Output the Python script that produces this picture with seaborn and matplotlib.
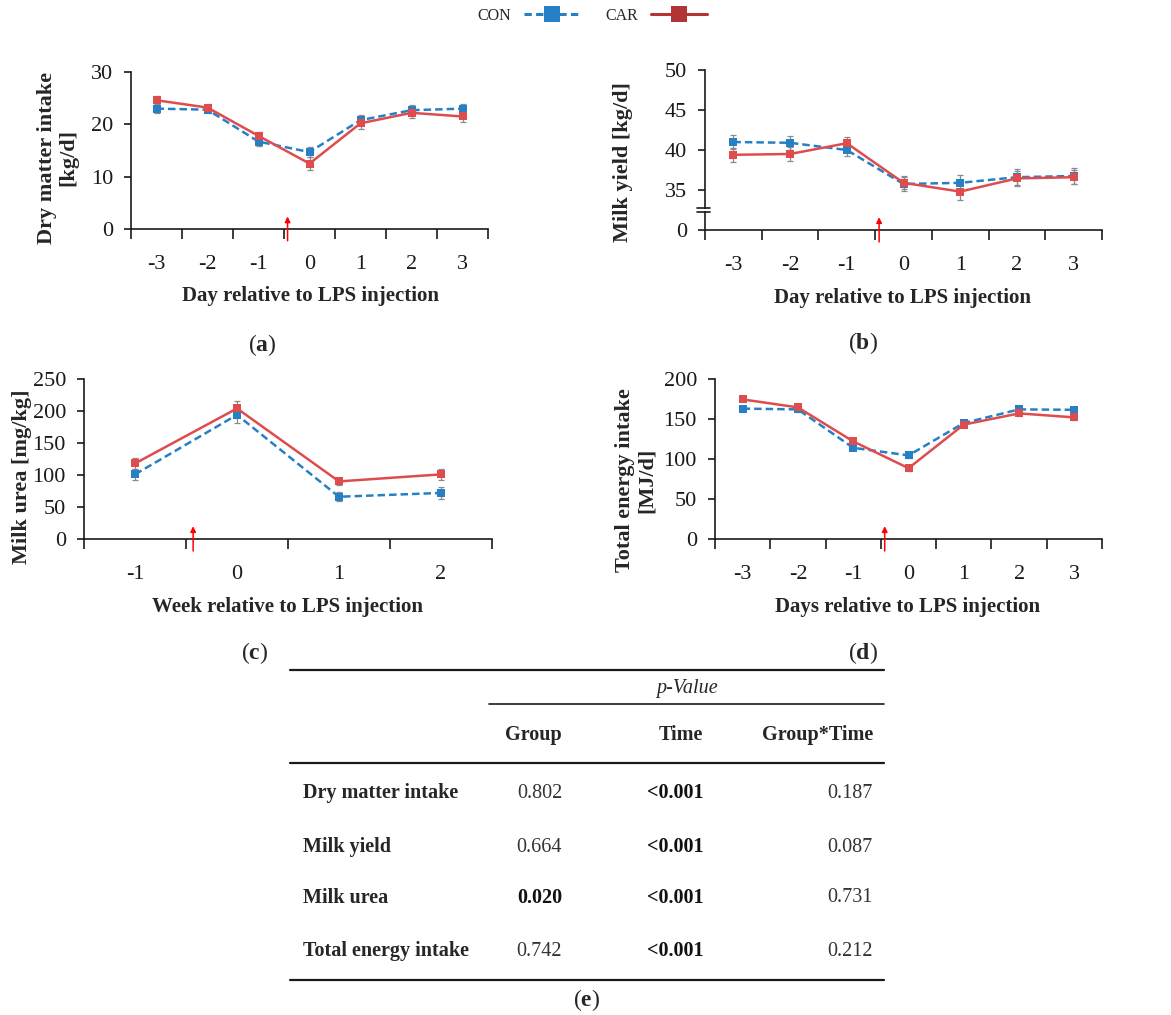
import numpy as np
import pandas as pd
import matplotlib
matplotlib.use("Agg")
import matplotlib.pyplot as plt
from matplotlib.lines import Line2D
import seaborn as sns

# ---------------- data ----------------
days = [-3, -2, -1, 0, 1, 2, 3]
weeks = [-1, 0, 1, 2]

dmi_con = [23.0, 22.8, 16.7, 14.7, 20.8, 22.7, 23.0]
dmi_car = [24.6, 23.2, 17.8, 12.5, 20.2, 22.2, 21.5]
dmi_con_se = [0.8, 0.7, 0.8, 1.0, 0.9, 1.0, 0.9]
dmi_car_se = [0.8, 0.7, 0.8, 1.2, 1.0, 1.0, 1.1]

my_con = [41.0, 40.9, 40.0, 35.75, 35.9, 36.6, 36.75]
my_car = [39.4, 39.5, 40.85, 35.9, 34.8, 36.45, 36.6]
my_con_se = [0.9, 0.9, 0.8, 0.9, 1.0, 1.0, 1.0]
my_car_se = [0.9, 0.9, 0.8, 0.8, 1.1, 0.9, 0.9]

urea_con = [101, 194, 66, 72]
urea_car = [118, 204, 90, 101]
urea_con_se = [9, 12, 7, 9]
urea_car_se = [8, 12, 6, 9]

tei_con = [163, 162, 114, 104.5, 145, 162, 161.5]
tei_car = [174.5, 164.5, 122, 88.5, 143, 157, 152]
tei_con_se = [3, 3, 3, 3, 3, 3, 3]
tei_car_se = [3, 3, 3, 3, 3, 3, 3]

groups = ["CON", "CAR"]

table_rows = ["Dry matter intake", "Milk yield", "Milk urea", "Total energy intake"]
table_cols = ["Group", "Time", "Group*Time"]
p_group = ["0.802", "0.664", "0.020", "0.742"]
p_time = ["<0.001", "<0.001", "<0.001", "<0.001"]
p_inter = ["0.187", "0.087", "0.731", "0.212"]
bold_group = [False, False, True, False]
bold_time = [True, True, True, True]
bold_inter = [False, False, False, False]

# ---------------- style ----------------
sns.set_style("ticks")
SERIF = ["Liberation Serif", "DejaVu Serif"]
plt.rcParams["font.family"] = SERIF
plt.rcParams["mathtext.fontset"] = "custom"
plt.rcParams["mathtext.rm"] = "Liberation Serif"
plt.rcParams["mathtext.bf"] = "Liberation Serif:bold"
plt.rcParams["mathtext.it"] = "Liberation Serif:italic"

BLUE = "#2580C5"
RED = "#DF4C4E"
DARKRED = "#B23435"
ERR = "#8a8a8a"
AXC = "#1a1a1a"

W, H = 1171, 1015
fig = plt.figure(figsize=(W / 100, H / 100), dpi=100)


def px_rect(l, t, r, b):
    return [l / W, 1 - b / H, (r - l) / W, (b - t) / H]


def panel(rect, cats, con, car, con_se, car_se, ylim, yticks, yticklabels=None):
    ax = fig.add_axes(px_rect(*rect))
    n = len(cats)
    pos = np.arange(n)
    df = pd.DataFrame({
        "pos": np.concatenate([pos, pos]),
        "value": list(con) + list(car),
        "Group": ["CON"] * n + ["CAR"] * n,
    })
    ax.errorbar(pos, con, yerr=con_se, fmt="none", ecolor=ERR, elinewidth=0.9,
                capsize=2.2, capthick=0.9, zorder=1)
    ax.errorbar(pos, car, yerr=car_se, fmt="none", ecolor=ERR, elinewidth=0.9,
                capsize=2.2, capthick=0.9, zorder=1)
    sns.lineplot(data=df, x="pos", y="value", hue="Group", style="Group",
                 hue_order=groups, style_order=groups,
                 palette={"CON": BLUE, "CAR": RED},
                 markers={"CON": "s", "CAR": "s"},
                 dashes={"CON": (3, 1.6), "CAR": ""},
                 markersize=6, markeredgewidth=0, linewidth=1.8,
                 legend=False, ax=ax, zorder=3)
    ax.set_xlim(-0.5, n - 0.5)
    ax.set_ylim(*ylim)
    ax.set_xticks(pos)
    ax.set_xticklabels([str(c) for c in cats])
    ax.set_xticks(np.arange(n + 1) - 0.5, minor=True)
    ax.set_yticks(yticks)
    if yticklabels is not None:
        ax.set_yticklabels(yticklabels)
    ax.tick_params(axis="x", which="major", length=0, pad=19, labelsize=16, colors=AXC)
    ax.tick_params(axis="x", which="minor", length=7, width=1.2, direction="out", color=AXC)
    ax.tick_params(axis="y", length=5, width=1.2, direction="out", pad=8, labelsize=16, colors=AXC)
    for s in ["top", "right"]:
        ax.spines[s].set_visible(False)
    for s in ["left", "bottom"]:
        ax.spines[s].set_linewidth(1.2)
        ax.spines[s].set_color(AXC)
    ax.set_xlabel("")
    ax.set_ylabel("")
    return ax


def lps_arrow(ax, n_before):
    x = n_before - 0.5 + 0.07
    ax.annotate("", xy=(x, 0.08), xycoords=("data", "axes fraction"),
                xytext=(x, -0.075), textcoords=("data", "axes fraction"),
                arrowprops=dict(arrowstyle="-|>", color="red", lw=1.1,
                                mutation_scale=8, shrinkA=0, shrinkB=0),
                annotation_clip=False)


def ftext(x, y, s, **kw):
    fig.text(x / W, 1 - y / H, s, **kw)


# (a)
ax_a = panel((131, 72, 488, 229), days, dmi_con, dmi_car, dmi_con_se, dmi_car_se,
             (0, 30), [0, 10, 20, 30])
lps_arrow(ax_a, 3)
# (b) with broken axis: bottom "0" stands for the break
ax_b = panel((705, 70, 1102, 230), days, my_con, my_car, my_con_se, my_car_se,
             (30, 50), [30, 35, 40, 45, 50], ["0", "35", "40", "45", "50"])
lps_arrow(ax_b, 3)
for yb in (0.112, 0.135):
    ax_b.plot([-0.02, 0.012], [yb, yb], transform=ax_b.transAxes, color=AXC,
              lw=1.2, clip_on=False, zorder=6)
ax_b.add_patch(plt.Rectangle((-0.006, 0.117), 0.012, 0.013, transform=ax_b.transAxes,
                             facecolor="white", edgecolor="none", clip_on=False, zorder=5))
# (c)
ax_c = panel((84, 379, 492, 539), weeks, urea_con, urea_car, urea_con_se, urea_car_se,
             (0, 250), [0, 50, 100, 150, 200, 250])
lps_arrow(ax_c, 1)
# (d)
ax_d = panel((715, 379, 1102, 539), days, tei_con, tei_car, tei_con_se, tei_car_se,
             (0, 200), [0, 50, 100, 150, 200])
lps_arrow(ax_d, 3)

# axis titles
ylab = dict(fontsize=16, fontweight="bold", ha="center", va="center")
xlab = dict(fontsize=15, fontweight="bold", ha="center", va="center")
ftext(58, 158, "Dry matter intake\n[kg/d]", rotation=90, linespacing=1.1, **ylab)
ftext(623, 162, "Milk yield [kg/d]", rotation=90, **ylab)
ftext(22, 477, "Milk urea [mg/kg]", rotation=90, **ylab)
ftext(636, 480, "Total energy intake\n[MJ/d]", rotation=90, linespacing=1.1, **ylab)
ftext(310, 296, "Day relative to LPS injection", **xlab)
ftext(903, 298, "Day relative to LPS injection", **xlab)
ftext(288, 607, "Week relative to LPS injection", **xlab)
ftext(908, 607, "Days relative to LPS injection", **xlab)

# panel letters
let = dict(fontsize=17, ha="center", va="center")
ftext(262, 345, r"($\mathbf{a}$)", **let)
ftext(863, 343, r"($\mathbf{b}$)", **let)
ftext(255, 653, r"($\mathbf{c}$)", **let)
ftext(863, 653, r"($\mathbf{d}$)", **let)
ftext(587, 1000, r"($\mathbf{e}$)", **let)

# legend
handles = [
    Line2D([], [], color=BLUE, ls=(0, (2.4, 1.4)), lw=2.2, marker="s",
           markersize=11, markeredgewidth=0),
    Line2D([], [], color=DARKRED, lw=2.2, marker="s", markersize=11,
           markeredgewidth=0),
]
fig.legend(handles, groups, loc="center", bbox_to_anchor=(592 / W, 1 - 16 / H),
           ncol=2, frameon=False, markerfirst=False, handlelength=3.5,
           handletextpad=0.8, columnspacing=1.6, fontsize=11.5, numpoints=1)

# ---------------- table (e) ----------------
tab = fig.add_axes([0, 0, 1, 1], zorder=-1)
tab.set_xlim(0, W)
tab.set_ylim(H, 0)
tab.axis("off")
tab.plot([290, 884], [670, 670], color=AXC, lw=1.6)
tab.plot([489, 884], [704, 704], color=AXC, lw=1.2)
tab.plot([290, 884], [763, 763], color=AXC, lw=1.6)
tab.plot([290, 884], [980, 980], color=AXC, lw=1.6)
tfs = 14.5
tab.text(687, 688, "p-Value", fontsize=tfs, fontstyle="italic", ha="center", va="center")
col_right = [562, 703, 873]
for cx, name in zip(col_right, table_cols):
    tab.text(cx, 735, name, fontsize=tfs, fontweight="bold", ha="right", va="center")
row_y = [793, 847, 898, 951]
cols = [(p_group, bold_group), (p_time, bold_time), (p_inter, bold_inter)]
for i, (ry, rname) in enumerate(zip(row_y, table_rows)):
    tab.text(303, ry, rname, fontsize=tfs, fontweight="bold", ha="left", va="center")
    for cx, (vals, bolds) in zip(col_right, cols):
        tab.text(cx, ry, vals[i], fontsize=tfs, ha="right", va="center",
                 fontweight="bold" if bolds[i] else "normal",
                 color="#111111" if bolds[i] else "#333333")

fig.savefig("out.png", dpi=100)
